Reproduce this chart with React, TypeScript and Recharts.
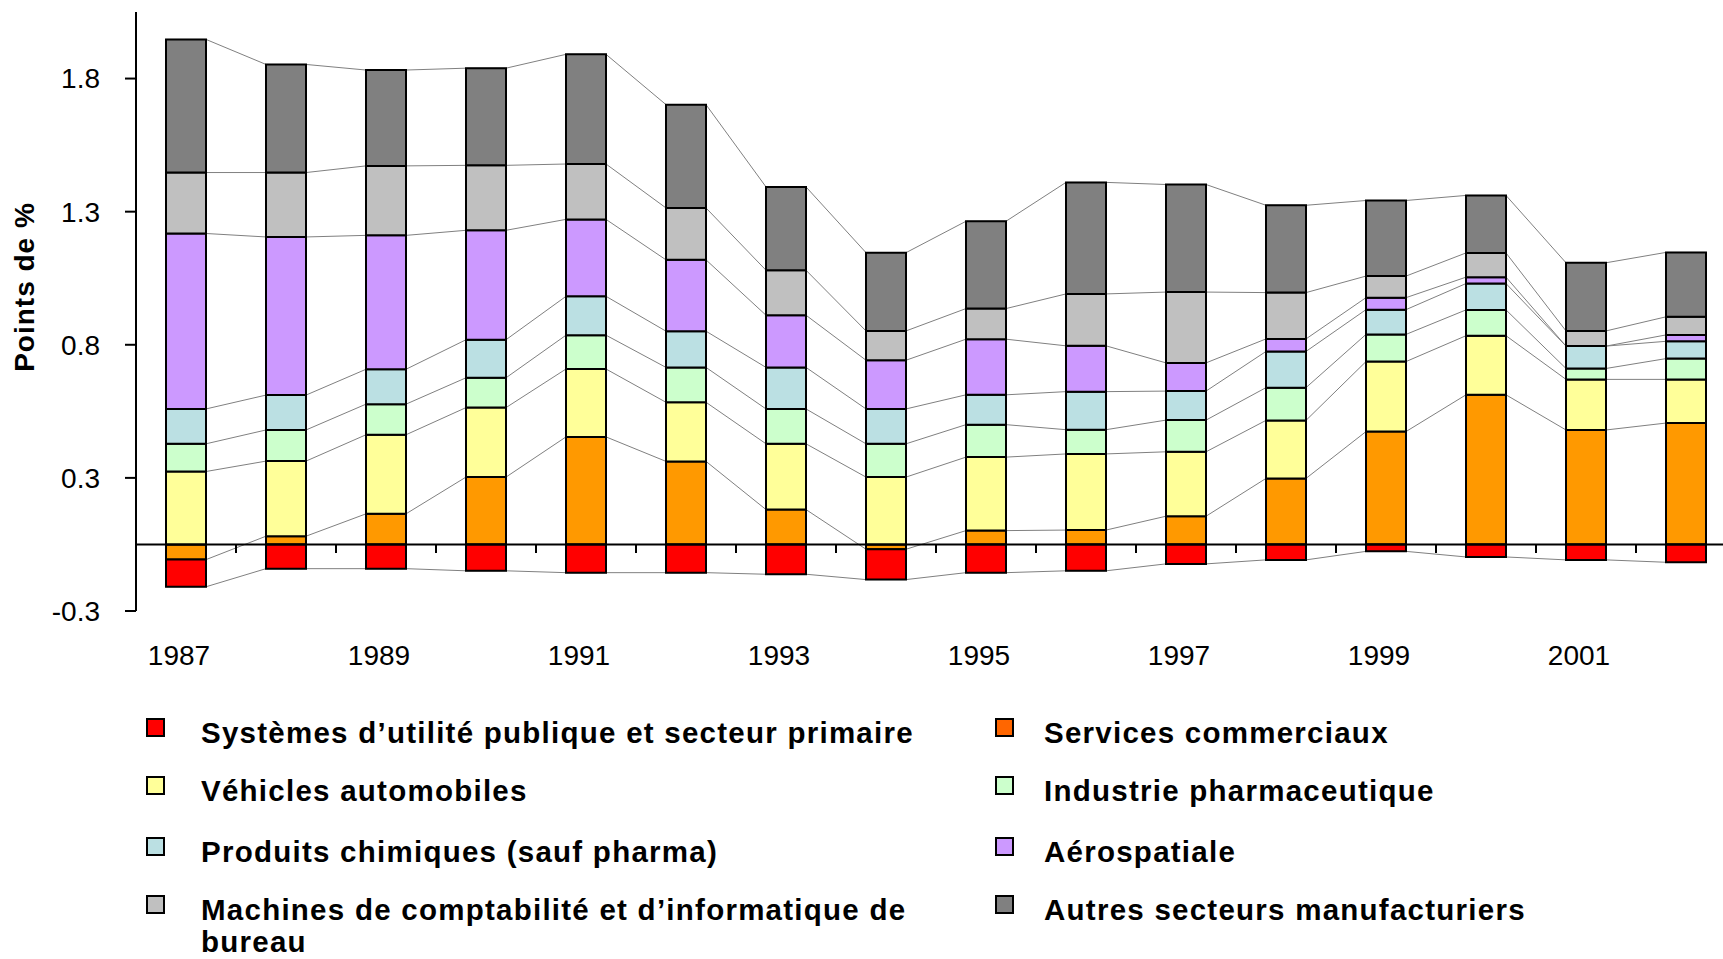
import React from 'react';
import { ComposedChart, LineChart, Bar, Line, XAxis, YAxis, ReferenceLine } from 'recharts';

// contributions par secteur, points de %
const years = ['1987', '1988', '1989', '1990', '1991', '1992', '1993', '1994', '1995', '1996', '1997', '1998', '1999', '2000', '2001', '2002'];

const services = [-0.057, 0.031, 0.115, 0.253, 0.404, 0.312, 0.131, -0.018, 0.052, 0.054, 0.106, 0.248, 0.424, 0.562, 0.43, 0.456];
const systemes = [-0.102, -0.091, -0.091, -0.099, -0.106, -0.106, -0.112, -0.114, -0.106, -0.099, -0.073, -0.058, -0.026, -0.047, -0.058, -0.067];
const vehicules = [0.274, 0.282, 0.297, 0.261, 0.255, 0.222, 0.247, 0.253, 0.276, 0.286, 0.242, 0.218, 0.263, 0.222, 0.19, 0.164];
const pharma = [0.104, 0.117, 0.115, 0.112, 0.127, 0.131, 0.131, 0.125, 0.122, 0.091, 0.119, 0.123, 0.102, 0.097, 0.041, 0.078];
const chimie = [0.131, 0.131, 0.131, 0.143, 0.146, 0.136, 0.156, 0.131, 0.112, 0.143, 0.109, 0.136, 0.093, 0.099, 0.084, 0.065];
const aero = [0.659, 0.594, 0.503, 0.411, 0.289, 0.268, 0.196, 0.183, 0.209, 0.172, 0.106, 0.047, 0.045, 0.024, 0, 0.024];
const informatique = [0.229, 0.242, 0.261, 0.244, 0.208, 0.195, 0.169, 0.11, 0.115, 0.195, 0.266, 0.174, 0.081, 0.091, 0.057, 0.068];
const autres = [0.5, 0.406, 0.36, 0.365, 0.412, 0.388, 0.313, 0.294, 0.328, 0.419, 0.404, 0.328, 0.284, 0.216, 0.256, 0.242];

const yTicks = [-0.25, 0.25, 0.75, 1.25, 1.75];
const yTickLabels = ['-0.3', '0.3', '0.8', '1.3', '1.8'];

// ordre d'empilement (les négatifs s'empilent à partir de zéro dans cet ordre)
const series = [
  { key: 'services', name: 'Services commerciaux', values: services, color: '#FF9900', legendColor: '#FF6600' },
  { key: 'systemes', name: 'Systèmes d’utilité publique et secteur primaire', values: systemes, color: '#FF0000', legendColor: '#FF0000' },
  { key: 'vehicules', name: 'Véhicles automobiles', values: vehicules, color: '#FFFF99', legendColor: '#FFFF99' },
  { key: 'pharma', name: 'Industrie pharmaceutique', values: pharma, color: '#CCFFCC', legendColor: '#CCFFCC' },
  { key: 'chimie', name: 'Produits chimiques (sauf pharma)', values: chimie, color: '#BBE0E3', legendColor: '#BBE0E3' },
  { key: 'aero', name: 'Aérospatiale', values: aero, color: '#CC99FF', legendColor: '#CC99FF' },
  { key: 'informatique', name: 'Machines de comptabilité et d’informatique de bureau', values: informatique, color: '#C0C0C0', legendColor: '#C0C0C0' },
  { key: 'autres', name: 'Autres secteurs manufacturiers', values: autres, color: '#808080', legendColor: '#808080' },
];

// disposition de la légende : deux colonnes
const legendCols = [
  ['systemes', 'vehicules', 'chimie', 'informatique'],
  ['services', 'pharma', 'aero', 'autres'],
];

const GAP = 0.3;
const W = 1740;
const H = 671;
const MARGIN = { top: 12, right: 4, bottom: 0, left: 0 };
const Y_AXIS_W = 136;
const X_AXIS_H = 60;
const DOMAIN: [number, number] = [-0.25, 2];
const FONT = '"Liberation Sans", Arial, sans-serif';

const rows = years.map((year, i) => {
  const r: any = { year };
  series.forEach((s) => (r[s.key] = s.values[i]));
  return r;
});

// points des lignes de série : bord gauche et droit de chaque barre, au bout de chaque segment
const lineRows: any[] = [];
years.forEach((_, i) => {
  let pos = 0;
  let neg = 0;
  const ends: any = {};
  series.forEach((s) => {
    const v = s.values[i];
    if (v >= 0) {
      pos += v;
      ends[s.key] = pos;
    } else {
      neg += v;
      ends[s.key] = neg;
    }
  });
  lineRows.push({ x: i + GAP, ...ends });
  lineRows.push({ x: i + 1 - GAP, ...ends });
});

const boundaries = years.slice(1).map((_, i) => i + 1);

const rowCenters = [733, 791, 852, 910];
const colText = [201, 1044];
const colMarker = [146, 995];
const LEGEND_LH = 32;

const App = () => {
  return (
    <div style={{ position: 'relative', width: 1723, height: 959, overflow: 'hidden', background: '#fff', fontFamily: FONT }}>
      <style>{'body{margin:0;overflow:hidden}'}</style>

      <div style={{ position: 'absolute', left: 0, top: 0 }}>
        <LineChart
          width={W}
          height={H}
          data={lineRows}
          margin={{ top: MARGIN.top, right: MARGIN.right, bottom: X_AXIS_H, left: Y_AXIS_W }}
        >
          <XAxis dataKey="x" type="number" domain={[0, years.length]} hide />
          <YAxis domain={DOMAIN} hide />
          {series.map((s) => (
            <Line
              key={s.key}
              dataKey={s.key}
              type="linear"
              stroke="#808080"
              strokeWidth={1}
              dot={false}
              activeDot={false}
              isAnimationActive={false}
            />
          ))}
          {boundaries.map((b) => (
            <ReferenceLine
              key={b}
              segment={[
                { x: b, y: 0 },
                { x: b, y: -0.032 },
              ]}
              stroke="#000"
              strokeWidth={2}
            />
          ))}
        </LineChart>
      </div>

      <div style={{ position: 'absolute', left: 0, top: 0 }}>
        <ComposedChart
          width={W}
          height={H}
          data={rows}
          margin={MARGIN}
          barCategoryGap={`${GAP * 100}%`}
          stackOffset="sign"
        >
          <XAxis
            dataKey="year"
            height={X_AXIS_H}
            axisLine={false}
            tickLine={false}
            interval={1}
            tickMargin={28}
            tick={{ fontSize: 28, fill: '#000', dx: -7 }}
          />
          <YAxis
            width={Y_AXIS_W}
            domain={DOMAIN}
            ticks={yTicks}
            interval={0}
            tickFormatter={(v: number) => yTickLabels[yTicks.indexOf(v)] ?? String(v)}
            axisLine={{ stroke: '#000', strokeWidth: 2 }}
            tickLine={{ stroke: '#000', strokeWidth: 2 }}
            tickSize={11}
            tickMargin={25}
            tick={{ fontSize: 28, fill: '#000' }}
          />
          {series.map((s) => (
            <Bar
              key={s.key}
              dataKey={s.key}
              stackId="a"
              fill={s.color}
              stroke="#000"
              strokeWidth={2}
              isAnimationActive={false}
            />
          ))}
          <ReferenceLine y={0} stroke="#000" strokeWidth={2} />
        </ComposedChart>
      </div>

      <div
        style={{
          position: 'absolute',
          left: 25,
          top: 287,
          transform: 'translate(-50%, -50%) rotate(-90deg)',
          whiteSpace: 'nowrap',
          fontWeight: 'bold',
          fontSize: 28,
          letterSpacing: 1,
          color: '#000',
        }}
      >
        Points de %
      </div>

      {legendCols.map((col, c) =>
        col.map((key, r) => {
          const s = series.find((x) => x.key === key)!;
          return (
            <React.Fragment key={key}>
              <div
                style={{
                  position: 'absolute',
                  left: colMarker[c],
                  top: rowCenters[r] - 15,
                  width: 19,
                  height: 19,
                  boxSizing: 'border-box',
                  border: '2px solid #000',
                  background: s.legendColor,
                }}
              />
              <div
                style={{
                  position: 'absolute',
                  left: colText[c],
                  top: rowCenters[r] - LEGEND_LH / 2,
                  width: 745,
                  fontSize: 29.5,
                  lineHeight: `${LEGEND_LH}px`,
                  fontWeight: 'bold',
                  letterSpacing: 1.25,
                  color: '#000',
                }}
              >
                {s.name}
              </div>
            </React.Fragment>
          );
        })
      )}
    </div>
  );
};

export default App;
